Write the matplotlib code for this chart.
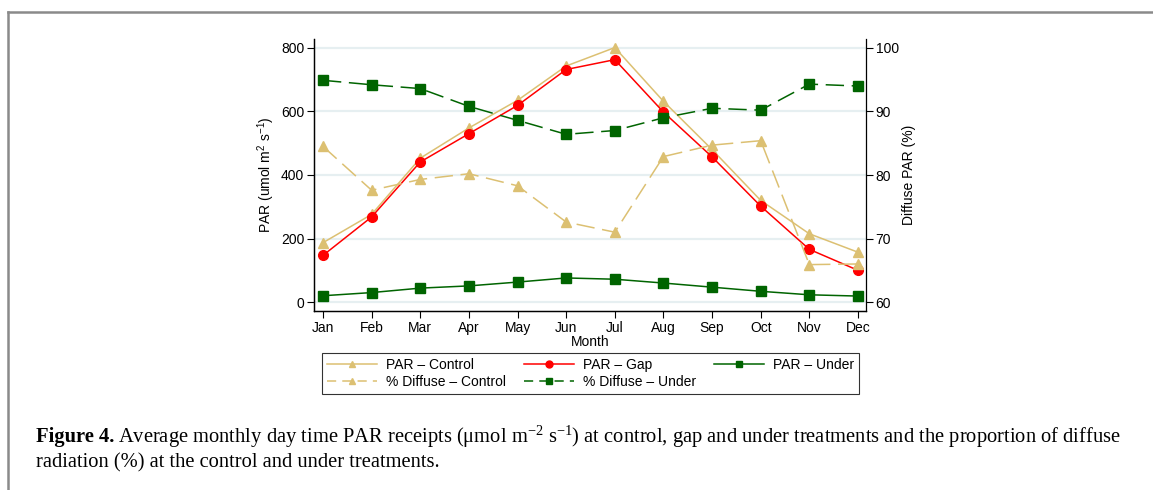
import matplotlib
matplotlib.use("Agg")
import matplotlib.pyplot as plt
from matplotlib.lines import Line2D
import numpy as np

plt.rcParams['font.family'] = ['Liberation Sans', 'DejaVu Sans']
plt.rcParams['mathtext.default'] = 'regular'

months = ['Jan', 'Feb', 'Mar', 'Apr', 'May', 'Jun', 'Jul', 'Aug', 'Sep', 'Oct', 'Nov', 'Dec']
par_control = [187, 276, 453, 548, 635, 743, 801, 632, 480, 320, 215, 157]
par_gap = [147, 268, 441, 530, 619, 732, 763, 598, 457, 302, 166, 100]
par_under = [20, 30, 44, 51, 63, 76, 72, 60, 47, 34, 23, 19]
diff_control = [84.5, 77.6, 79.3, 80.2, 78.3, 72.6, 71.0, 82.9, 84.7, 85.4, 65.9, 66.0]
diff_under = [94.9, 94.2, 93.6, 90.8, 88.6, 86.4, 87.0, 89.0, 90.5, 90.2, 94.3, 94.0]

c_ctrl = '#dcc072'
c_gap = '#ff0000'
c_under = '#006400'
grid_c = '#e6eff1'
dash = (0, (12, 5))

fig = plt.figure(figsize=(11.53, 4.9), dpi=100)
ax = fig.add_axes([314/1153, 1-311/490, (866-314)/1153, (311-39)/490])
ax2 = ax.twinx()

x = np.arange(len(months))

for y in [0, 200, 400, 600, 800]:
    ax.axhline(y, color=grid_c, lw=1.6, zorder=0)

lw = 1.1
l1, = ax.plot(x, par_control, color=c_ctrl, lw=lw, marker='^', ms=7, zorder=3)
l2, = ax.plot(x, par_gap, color=c_gap, lw=lw, marker='o', ms=7, zorder=4)
l3, = ax.plot(x, par_under, color=c_under, lw=lw, marker='s', ms=6.5, zorder=3)
l4, = ax2.plot(x, diff_control, color=c_ctrl, lw=lw, ls=dash, marker='^', ms=7)
l5, = ax2.plot(x, diff_under, color=c_under, lw=lw, ls=dash, marker='s', ms=6.5)

ax.set_xlim(-0.185, 11.165)
ax.set_ylim(-28, 828)
ax2.set_ylim(60 - 28/20, 60 + 828/20)
ax.set_yticks([0, 200, 400, 600, 800])
ax2.set_yticks([60, 70, 80, 90, 100])
ax.set_xticks(x)
ax.set_xticklabels(months)

fs = 10
for a in (ax, ax2):
    a.spines['top'].set_visible(False)
    a.tick_params(labelsize=fs, length=5, width=0.8, pad=2)
    for s in a.spines.values():
        s.set_linewidth(0.9)
ax.spines['right'].set_visible(False)

ax.set_ylabel('PAR (umol m$^{2}$ s$^{-1}$)', fontsize=fs, labelpad=3)
ax2.set_ylabel('Diffuse PAR (%)', fontsize=fs, labelpad=2)
ax.set_xlabel('Month', fontsize=fs, labelpad=0)

handles = [l1, l4, l2, l5, l3]
labels = ['PAR \u2013 Control', '% Diffuse \u2013 Control', 'PAR \u2013 Gap',
          '% Diffuse \u2013 Under', 'PAR \u2013 Under']
leg_handles = []
for h in handles:
    leg_handles.append(Line2D([], [], color=h.get_color(), lw=1.1,
                              ls='-' if h in (l1, l2, l3) else (0, (6, 4)),
                              marker=h.get_marker(), ms=5))
leg = fig.legend(leg_handles, labels, ncol=3, loc='upper left',
                 bbox_to_anchor=(322/1153, 1-353/490), fontsize=fs,
                 frameon=True, fancybox=False, edgecolor='black', handlelength=3.6,
                 handletextpad=0.65, columnspacing=1.3, borderpad=0.35, labelspacing=0.25,
                 numpoints=1, borderaxespad=0)
leg.get_frame().set_linewidth(0.8)

# frame lines
fig.add_artist(Line2D([8/1153, 1], [1-12/490, 1-12/490], color='#8a8a8a', lw=1.8))
fig.add_artist(Line2D([8/1153, 8/1153], [0, 1-12/490], color='#8a8a8a', lw=1.8))

# caption
fig.canvas.draw()
r = fig.canvas.get_renderer()
cap_font = ['Liberation Serif', 'DejaVu Serif']
cs = 14.8
t1 = fig.text(36/1153, 1-437/490, 'Figure 4.', fontsize=cs, fontweight='bold',
              family=cap_font, va='center')
bb = t1.get_window_extent(r)
fig.text((bb.x1 + 4)/1153, 1-437/490,
         'Average monthly day time PAR receipts (\u03bcmol m$^{\u22122}$ s$^{\u22121}$) at control, gap and under treatments and the proportion of diffuse',
         fontsize=cs, family=cap_font, va='center')
fig.text(36/1153, 1-463/490, 'radiation (%) at the control and under treatments.',
         fontsize=cs, family=cap_font, va='center')

fig.savefig('out.png', dpi=100)
